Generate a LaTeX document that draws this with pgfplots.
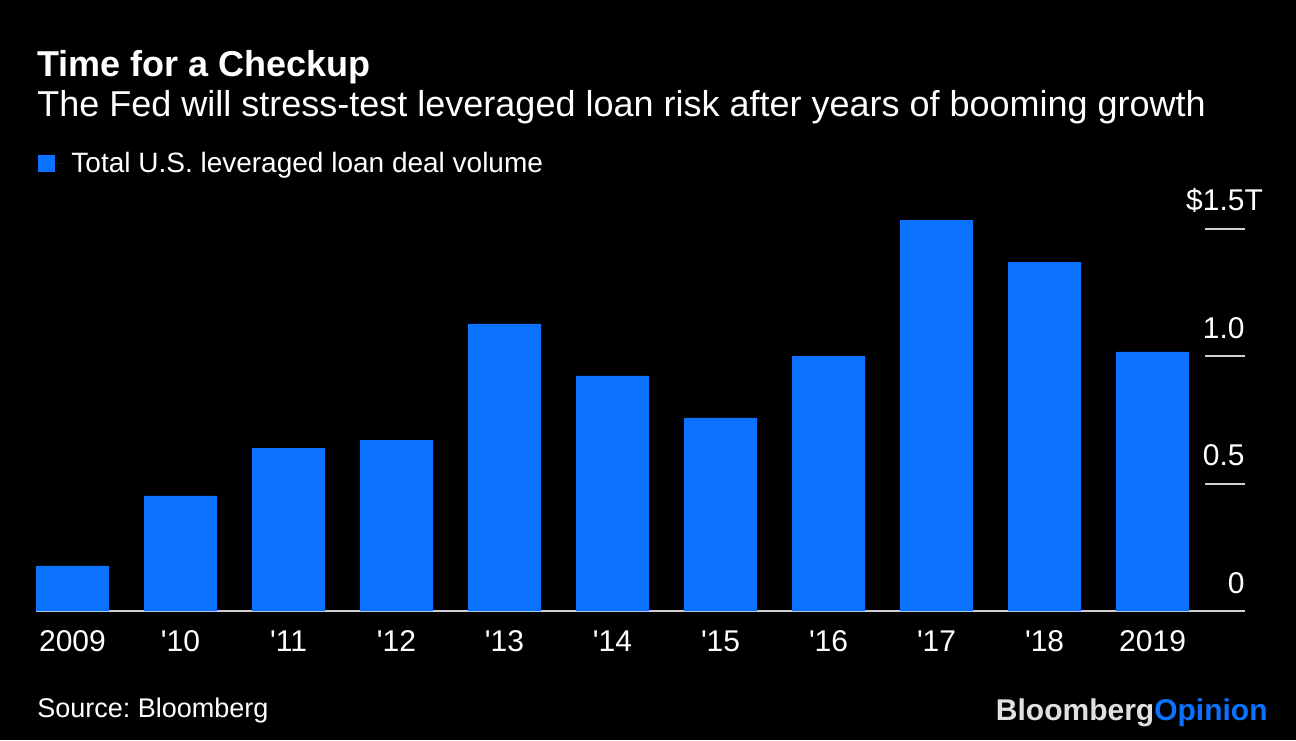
\documentclass[border=0pt]{standalone}
\usepackage{fontspec}
\setmainfont{Liberation Sans}[Ligatures=TeXOff]
\usepackage{pgfplots}
\pgfplotsset{compat=1.18}
\definecolor{barblue}{HTML}{0A72FF}
\definecolor{axgray}{HTML}{D0D0D0}
\definecolor{logogray}{HTML}{E0E0E0}
\begin{document}
\frenchspacing
\begin{tikzpicture}[x=1bp,y=1bp]
\path[use as bounding box] (0,0) rectangle (648,370);
\fill[black] (0,0) rectangle (648,370);
\begin{axis}[
  at={(18bp,64.5bp)}, anchor=south west,
  scale only axis, width=604.5bp, height=203.75bp,
  xmin=-0.338, xmax=10.856, ymin=0, ymax=1.6,
  ybar, bar width=0.676,
  axis x line*=bottom, axis y line*=right,
  x axis line style={axgray, line width=1.2bp, -},
  y axis line style={draw=none},
  xtick={0,1,2,3,4,5,6,7,8,9,10},
  xticklabels={2009,'10,'11,'12,'13,'14,'15,'16,'17,'18,2019},
  xtick style={draw=none},
  xticklabel style={font=\fontsize{15bp}{17bp}\selectfont\frenchspacing, text=white, inner sep=0pt, anchor=north, yshift=10.5bp},
  ytick={0,0.5,1,1.5},
  yticklabels={0,0.5,1.0,\$1.5\rlap{T}},
  ytick align=inside,
  ytick style={axgray, line width=1bp},
  major tick length=20bp,
  yticklabel pos=right,
  yticklabel style={font=\fontsize{15bp}{17bp}\selectfont, text=white, inner sep=0pt, anchor=base east, yshift=9bp},
  legend style={at={(0.0017,1.097)}, anchor=west, draw=none, fill=none, text=white,
    font=\fontsize{14bp}{16bp}\selectfont\frenchspacing, inner sep=0pt},
  legend cell align=left,
  legend image code/.code={\path (0bp,0bp) -- (14.5bp,0bp);\fill[barblue] (0bp,-4bp) rectangle (8.5bp,4.5bp);},
]
\addplot[fill=barblue, draw=none] coordinates {
 (0,0.177) (1,0.452) (2,0.640) (3,0.671) (4,1.127) (5,0.923)
 (6,0.758) (7,1.001) (8,1.535) (9,1.370) (10,1.017)};
\addlegendentry{Total U.S. leveraged loan deal volume}
\end{axis}
\node[anchor=base west, inner sep=0, text=white, font=\bfseries\fontsize{18bp}{20bp}\selectfont] at (18.5,332) {Time for a Checkup};
\node[anchor=base west, inner sep=0, text=white, font=\fontsize{18bp}{20bp}\selectfont] at (18.5,312) {The Fed will stress-test leveraged loan risk after years of booming growth};
\node[anchor=base west, inner sep=0, text=white, font=\fontsize{13.5bp}{15bp}\selectfont] at (18.5,11.5) {Source: Bloomberg};
\node[anchor=base east, inner sep=0, font=\bfseries\fontsize{15bp}{17bp}\selectfont] at (634,10) {\textcolor{logogray}{Bloomberg}\textcolor{barblue}{Opinion}};
\end{tikzpicture}
\end{document}
